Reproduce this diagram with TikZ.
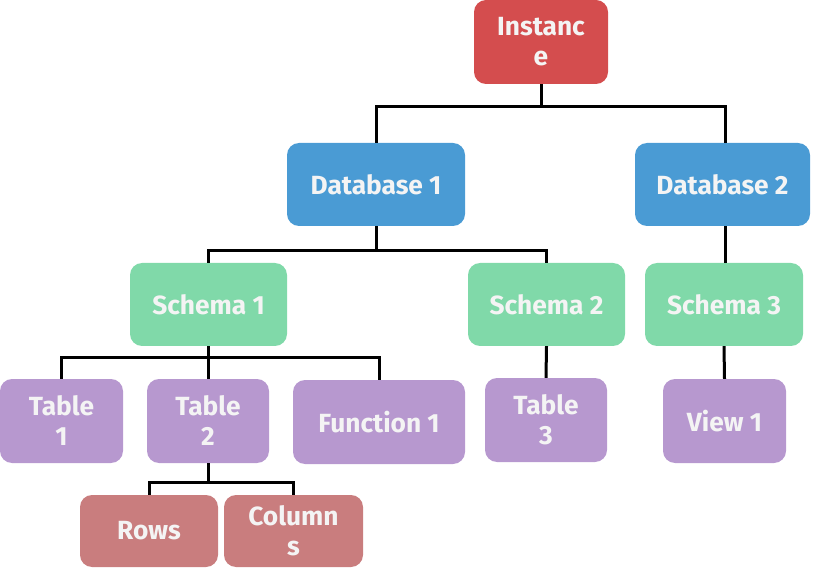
\documentclass[tikz,border=0pt]{standalone}
\usepackage{fontspec}
\setmainfont{Fira Sans}
\definecolor{cinst}{HTML}{D44D4E}
\definecolor{cdb}{HTML}{4A9BD4}
\definecolor{csch}{HTML}{80D9A9}
\definecolor{ctab}{HTML}{B798CF}
\definecolor{crow}{HTML}{C97D7E}
\definecolor{ctxt}{HTML}{F4F4F4}
\begin{document}
\begin{tikzpicture}[x=1pt,y=-1pt,
  box/.style={rectangle, rounded corners=12pt, draw=none, inner sep=0pt,
    text=ctxt, font=\fontsize{26.3}{30}\selectfont\bfseries, align=center},
  conn/.style={draw=black, line width=3pt}]
\useasboundingbox (0,0) rectangle (814,577);
\node[box, fill=cinst, minimum width=134pt, minimum height=84pt] (inst) at (541,42) {Instanc\\e};
\node[box, fill=cdb, minimum width=178pt, minimum height=83pt] (db1) at (376,184.5) {Database 1};
\node[box, fill=cdb, minimum width=175pt, minimum height=83pt] (db2) at (722.5,184.5) {Database 2};
\node[box, fill=csch, minimum width=157pt, minimum height=83pt] (s1) at (208.5,304.5) {Schema 1};
\node[box, fill=csch, minimum width=157pt, minimum height=83pt] (s2) at (546.5,304.5) {Schema 2};
\node[box, fill=csch, minimum width=158pt, minimum height=83pt] (s3) at (724,304.5) {Schema 3};
\node[box, fill=ctab, minimum width=123pt, minimum height=84pt] (t1) at (61.5,421) {Table\\1};
\node[box, fill=ctab, minimum width=122pt, minimum height=84pt] (t2) at (208,421) {Table\\2};
\node[box, fill=ctab, minimum width=172pt, minimum height=84pt] (f1) at (379,422) {Function 1};
\node[box, fill=ctab, minimum width=122pt, minimum height=84pt] (t3) at (546,420) {Table\\3};
\node[box, fill=ctab, minimum width=123pt, minimum height=84pt] (v1) at (724.5,421) {View 1};
\node[box, fill=crow, minimum width=138pt, minimum height=72pt] (rows) at (149,531) {Rows};
\node[box, fill=crow, minimum width=139pt, minimum height=72pt] (cols) at (293.5,531) {Column\\s};
% connectors
\draw[conn] (inst.south) -- ++(0,22) coordinate (j1);
\draw[conn] (j1) -| (db1.north);
\draw[conn] (j1) -| ([xshift=3pt]db2.north);
\draw[conn] (db1.south) -- ++(0,24) coordinate (j2);
\draw[conn] (j2) -| (s1.north);
\draw[conn] (j2) -| (s2.north);
\draw[conn] ([xshift=3pt]db2.south) -- ([xshift=3pt]db2.south |- s3.north);
\draw[conn] (s1.south) -- ++(0,11) coordinate (j3);
\draw[conn] (j3) -| (t1.north);
\draw[conn] (j3) -| (t2.north);
\draw[conn] (j3) -| (f1.north);
\draw[conn] (s2.south) -- (t3.north);
\draw[conn] (s3.south) -- (v1.north);
\draw[conn] (t2.south) -- ++(0,19) coordinate (j4);
\draw[conn] (j4) -| (rows.north);
\draw[conn] (j4) -| (cols.north);
\end{tikzpicture}
\end{document}
